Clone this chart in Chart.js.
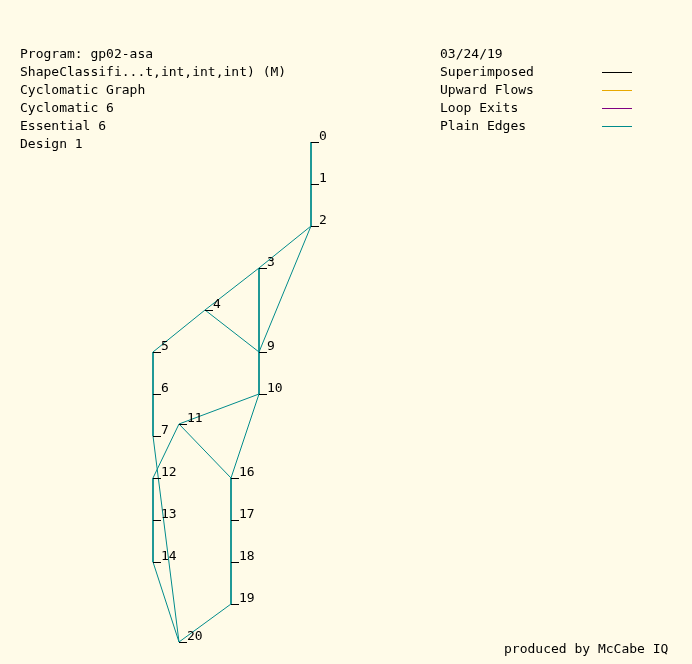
<!DOCTYPE html>
<html>
<head>
<meta charset="utf-8">
<script src="https://cdn.jsdelivr.net/npm/chart.js@4/dist/chart.umd.min.js"></script>
<style>
body { margin: 0; background: #fffbe8; }
canvas { display: block; }
</style>
</head>
<body>
<canvas id="graph" width="692" height="664"></canvas>
<script>
// node ids and their layout positions (graph units = screen units of the original)
var nodeIds = [0, 1, 2, 3, 4, 5, 6, 7, 9, 10, 11, 12, 13, 14, 16, 17, 18, 19, 20];
var nodeX = [311, 311, 311, 259, 205, 153, 153, 153, 259, 259, 179, 153, 153, 153, 231, 231, 231, 231, 179];
var nodeY = [142, 184, 226, 268, 310, 352, 394, 436, 352, 394, 424, 478, 520, 562, 478, 520, 562, 604, 642];
var edgeFrom = [0, 1, 2, 2, 3, 3, 4, 4, 5, 6, 7, 9, 10, 10, 11, 11, 12, 13, 14, 16, 17, 18, 19];
var edgeTo = [1, 2, 3, 9, 4, 9, 5, 9, 6, 7, 20, 10, 11, 16, 12, 16, 13, 14, 20, 17, 18, 19, 20];

var infoLines = ['Program: gp02-asa', 'ShapeClassifi...t,int,int,int) (M)', 'Cyclomatic Graph',
    'Cyclomatic 6', 'Essential 6', 'Design 1'];
var legendLabels = ['Superimposed', 'Upward Flows', 'Loop Exits', 'Plain Edges'];
var legendColors = ['#000000', '#e8a800', '#800080', '#008b8b'];

function pos(id) {
    var i = nodeIds.indexOf(id);
    return { x: nodeX[i], y: nodeY[i] };
}

var edgePoints = [];
for (var i = 0; i < edgeFrom.length; i++) {
    edgePoints.push(pos(edgeFrom[i]), pos(edgeTo[i]), { x: null, y: null });
}

var textPlugin = {
    id: 'graphText',
    afterDatasetsDraw: function (chart) {
        var c = chart.ctx;
        var sx = chart.scales.x, sy = chart.scales.y;
        c.save();
        c.font = '13px "DejaVu Sans Mono", monospace';
        c.fillStyle = '#000';
        c.textBaseline = 'alphabetic';
        infoLines.forEach(function (t, k) { c.fillText(t, 20, 58 + k * 18); });
        c.fillText('03/24/19', 440, 58);
        legendLabels.forEach(function (t, k) {
            c.fillStyle = '#000';
            c.fillText(t, 440, 76 + k * 18);
            c.strokeStyle = legendColors[k];
            c.lineWidth = 1;
            c.beginPath();
            c.moveTo(602, 72.5 + k * 18);
            c.lineTo(632, 72.5 + k * 18);
            c.stroke();
        });
        c.fillStyle = '#000';
        c.fillText('produced by McCabe IQ', 504, 653);
        nodeIds.forEach(function (id, k) {
            var px = sx.getPixelForValue(nodeX[k]);
            var py = sy.getPixelForValue(nodeY[k]);
            c.strokeStyle = '#000';
            c.beginPath();
            c.moveTo(px, Math.round(py) + 0.5);
            c.lineTo(px + 8, Math.round(py) + 0.5);
            c.stroke();
            c.fillText(String(id), px + 8, py - 2);
        });
        c.restore();
    }
};

new Chart(document.getElementById('graph').getContext('2d'), {
    type: 'scatter',
    data: {
        datasets: [{
            label: 'Plain Edges',
            data: edgePoints,
            showLine: true,
            spanGaps: false,
            borderColor: '#008b8b',
            borderWidth: 1,
            pointRadius: 0
        }]
    },
    options: {
        responsive: false,
        animation: false,
        layout: { padding: 0 },
        plugins: { legend: { display: false }, tooltip: { enabled: false } },
        scales: {
            x: { type: 'linear', min: 0, max: 692, display: false },
            y: { type: 'linear', min: 0, max: 664, reverse: true, display: false }
        }
    },
    plugins: [textPlugin]
});
</script>
</body>
</html>
